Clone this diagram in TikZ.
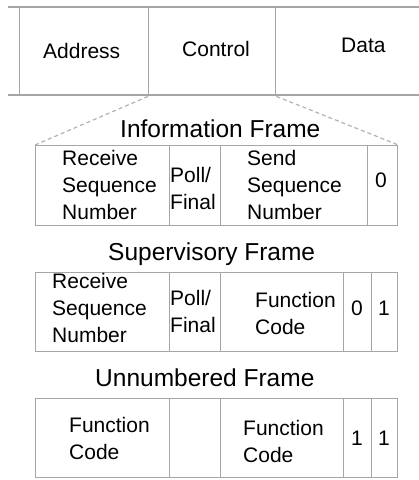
\documentclass[tikz,border=0pt]{standalone}
\usepackage{fontspec}
\setmainfont{Liberation Sans}
\begin{document}
\begin{tikzpicture}[x=1pt, y=-1pt,
    cell/.style={draw=gray!70, line width=1.4pt, rectangle, inner sep=0, anchor=north west},
    link/.style={draw=gray!60, line width=1.2pt, dash pattern=on 4pt off 3pt},
    lbl/.style={inner sep=0, anchor=north west, align=left, font=\fontsize{21}{27}\selectfont},
    bit/.style={inner sep=0, anchor=base, font=\fontsize{21}{27}\selectfont},
    title/.style={inner sep=0, anchor=base west, font=\fontsize{24.5}{30}\selectfont}]
    \useasboundingbox (0, 0) rectangle (419, 480);
    % top frame
    \draw[draw=gray!70, line width=1.4pt] (8, 7) -- (419, 7);
    \draw[draw=gray!70, line width=1.4pt] (8, 95) -- (419, 95);
    \node[cell, minimum width=129, minimum height=88] (addr) at (19, 7) {};
    \node[cell, minimum width=127, minimum height=88] (ctrl) at (148, 7) {};
    \node[lbl, anchor=base west] (addrt) at (43, 58) {Address};
    \node[lbl, anchor=base west] (ctrlt) at (182, 56) {Control};
    \node[lbl, anchor=base west] (datat) at (341, 52) {Data};

    % information frame
    \node[title] (ititle) at (120, 137) {Information Frame};
    \node[cell, minimum width=134, minimum height=80] (irecv) at (35, 145) {};
    \node[cell, minimum width=51, minimum height=80] (ipf) at (169, 145) {};
    \node[cell, minimum width=147, minimum height=80] (isend) at (220, 145) {};
    \node[cell, minimum width=30, minimum height=80] (izero) at (367, 145) {};
    \node[lbl] (irecvt) at (62, 150) {Receive\\Sequence\\Number};
    \node[lbl] (ipft) at (170, 167) {Poll/\\Final};
    \node[lbl] (isendt) at (247, 150) {Send\\Sequence\\Number};
    \node[bit] (izerot) at (381, 187) {0};
    \draw[link] (ctrl.south west) -- (irecv.north west);
    \draw[link] (ctrl.south east) -- (izero.north east);

    % supervisory frame
    \node[title] (stitle) at (108, 260) {Supervisory Frame};
    \node[cell, minimum width=134, minimum height=79] (srecv) at (35, 272) {};
    \node[cell, minimum width=51, minimum height=79] (spf) at (169, 272) {};
    \node[cell, minimum width=123, minimum height=79] (sfunc) at (220, 272) {};
    \node[cell, minimum width=28, minimum height=79] (szero) at (343, 272) {};
    \node[cell, minimum width=26, minimum height=79] (sone) at (371, 272) {};
    \node[lbl] (srecvt) at (52, 273) {Receive\\Sequence\\Number};
    \node[lbl] (spft) at (170, 290) {Poll/\\Final};
    \node[lbl] (sfunct) at (255, 292) {Function\\Code};
    \node[bit] (szerot) at (357, 315) {0};
    \node[bit] (sonet) at (384, 315) {1};

    % unnumbered frame
    \node[title] (utitle) at (95, 386) {Unnumbered Frame};
    \node[cell, minimum width=134, minimum height=79] (ufunca) at (35, 398) {};
    \node[cell, minimum width=51, minimum height=79] (ublank) at (169, 398) {};
    \node[cell, minimum width=123, minimum height=79] (ufuncb) at (220, 398) {};
    \node[cell, minimum width=28, minimum height=79] (uonea) at (343, 398) {};
    \node[cell, minimum width=26, minimum height=79] (uoneb) at (371, 398) {};
    \node[lbl] (ufuncat) at (69, 417) {Function\\Code};
    \node[lbl] (ufuncbt) at (243, 420) {Function\\Code};
    \node[bit] (uoneat) at (357, 445) {1};
    \node[bit] (uonebt) at (384, 445) {1};
\end{tikzpicture}
\end{document}
